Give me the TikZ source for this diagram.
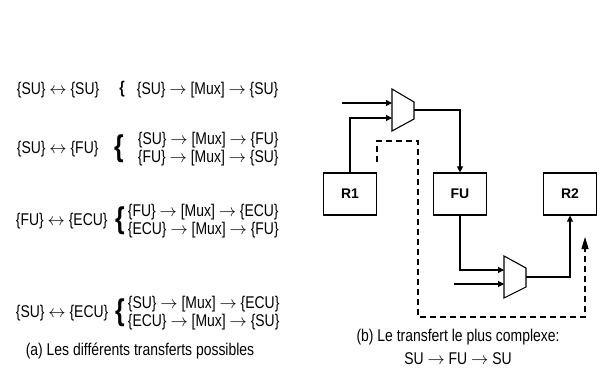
\documentclass[tikz,border=0pt]{standalone}
\usepackage{fontspec}
\setmainfont[FakeStretch=0.82]{Liberation Sans}
\newfontfamily\lblfont{Liberation Sans}
\usepackage{tikz}
\usetikzlibrary{arrows.meta}
\usetikzlibrary{positioning}

\begin{document}
\begin{tikzpicture}[x=1pt,y=-1pt,font=\fontsize{17}{18}\selectfont,
    line width=1.1pt,>={Triangle[length=6pt,width=6pt]}]
        \useasboundingbox (0,0) rectangle (604,371);
        % (a) transfers
        \node[anchor=west] (t1) at (13,90) {\{SU\} $\leftrightarrow$ \{SU\}};
        \node (b1) at (122,89) {\fontsize{17}{17}\selectfont\bfseries\{};
        \node[anchor=west] (r1) at (133,90) {\{SU\} $\rightarrow$ [Mux] $\rightarrow$ \{SU\}};
        \node[anchor=west] (t2) at (13,149) {\{SU\} $\leftrightarrow$ \{FU\}};
        \node (b2) at (119,149) {\fontsize{30}{30}\selectfont\bfseries\{};
        \node[anchor=west,align=left] (r2) at (134,149) {\{SU\} $\rightarrow$ [Mux] $\rightarrow$ \{FU\}\\\{FU\} $\rightarrow$ [Mux] $\rightarrow$ \{SU\}};
        \node[anchor=west] (t3) at (12,221) {\{FU\} $\leftrightarrow$ \{ECU\}};
        \node (b3) at (120,221) {\fontsize{30}{30}\selectfont\bfseries\{};
        \node[anchor=west,align=left] (r3) at (124,221) {\{FU\} $\rightarrow$ [Mux] $\rightarrow$ \{ECU\}\\\{ECU\} $\rightarrow$ [Mux] $\rightarrow$ \{FU\}};
        \node[anchor=west] (t4) at (12,313) {\{SU\} $\leftrightarrow$ \{ECU\}};
        \node (b4) at (120,313) {\fontsize{30}{30}\selectfont\bfseries\{};
        \node[anchor=west,align=left] (r4) at (124,313) {\{SU\} $\rightarrow$ [Mux] $\rightarrow$ \{ECU\}\\\{ECU\} $\rightarrow$ [Mux] $\rightarrow$ \{SU\}};
        \node (capa) at (140,351) {(a) Les différents transferts possibles};
        % (b) registers
        \node[draw,minimum width=53,minimum height=42,font=\lblfont\bfseries\fontsize{14}{14}\selectfont] (R1) at (350,194) {R1};
        \node[draw,minimum width=53,minimum height=42,font=\lblfont\bfseries\fontsize{14}{14}\selectfont] (FU) at (460,194) {FU};
        \node[draw,minimum width=53,minimum height=42,font=\lblfont\bfseries\fontsize{14}{14}\selectfont] (R2) at (570,194) {R2};
        % multiplexers
        \draw (392,89) -- (414,102) -- (414,119) -- (392,131) -- cycle;
        \coordinate (m1a) at (392,103);
        \coordinate (m1b) at (392,118);
        \coordinate (m1o) at (414,110);
        \coordinate (in1) at (342,103);
        \draw (504,256) -- (526,268) -- (526,287) -- (504,298) -- cycle;
        \coordinate (m2a) at (504,270);
        \coordinate (m2b) at (504,284);
        \coordinate (m2o) at (526,277);
        \coordinate (in2) at (454,284);
        \draw[->] (in1) -- (m1a);
        \draw[->] (R1.north) |- (m1b);
        \draw[->] (m1o) -| (FU.north);
        \draw[->] (FU.south) |- (m2a);
        \draw[->] (in2) -- (m2b);
        \draw[->] (m2o) -| (R2.south);
        % dashed path
        \coordinate (d0) at (377,162);
        \coordinate (d1) at (377,141);
        \coordinate (d2) at (418,141);
        \coordinate (d3) at (418,317);
        \coordinate (d4) at (585,317);
        \coordinate (d5) at (585,237);
        \draw[dash pattern=on 6pt off 4pt,-{Triangle[length=12pt,width=7pt]}] (d0) -- (d1) -- (d2) -- (d3) -- (d4) -- (d5);
        \node (capb) at (458,337) {(b) Le transfert le plus complexe:};
        \node (capc) at (458,359) {SU $\rightarrow$ FU $\rightarrow$ SU};
    \end{tikzpicture}
\end{document}
